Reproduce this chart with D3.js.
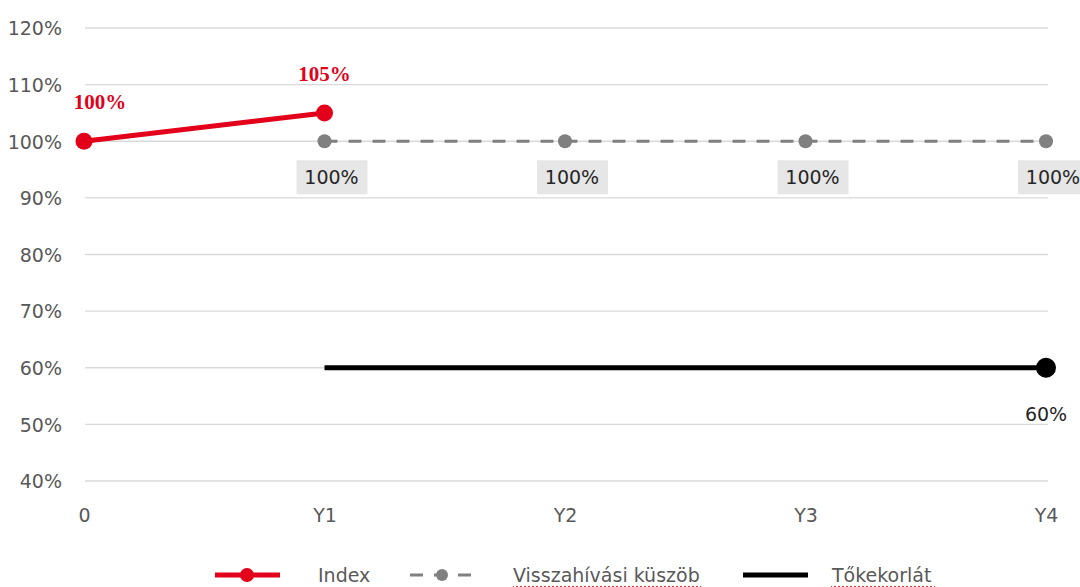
<!DOCTYPE html>
<html>
<head>
<meta charset="utf-8">
<script src="https://cdn.jsdelivr.net/npm/d3@7"></script>
<style>
  body { margin: 0; background: #fff; }
  svg text { font-family: "DejaVu Sans", sans-serif; }
</style>
</head>
<body>
<svg id="chart"></svg>
<script>
const categories = ["0", "Y1", "Y2", "Y3", "Y4"];
const yTicks = [0.4, 0.5, 0.6, 0.7, 0.8, 0.9, 1.0, 1.1, 1.2];
const indexValues = [{ x: "0", v: 1.00 }, { x: "Y1", v: 1.05 }];
const thresholdValues = [{ x: "Y1", v: 1.00 }, { x: "Y2", v: 1.00 }, { x: "Y3", v: 1.00 }, { x: "Y4", v: 1.00 }];
const barrierValues = [{ x: "Y1", v: 0.60 }, { x: "Y4", v: 0.60 }];
const legendLabels = ["Index", "Visszahívási küszöb", "Tőkekorlát"];

const width = 1080, height = 587;
const red = "#e2001a", grey = "#808080";
const fmt = d3.format(".0%");

const svg = d3.select("#chart").attr("width", width).attr("height", height);

const x = d3.scalePoint().domain(categories).range([84, 1046]);
const y = d3.scaleLinear().domain([0.4, 1.2]).range([481, 28]);

// gridlines
svg.append("g")
    .selectAll("line")
    .data(yTicks)
    .join("line")
    .attr("x1", 85).attr("x2", 1048)
    .attr("y1", d => y(d)).attr("y2", d => y(d))
    .attr("stroke", "#d9d9d9").attr("stroke-width", 1.3);

// y axis labels
const yAxis = d3.axisLeft(y).tickValues(yTicks).tickFormat(fmt).tickSize(0).tickPadding(0);
svg.append("g")
    .attr("transform", "translate(62,0)")
    .call(yAxis)
    .call(g => g.select(".domain").remove())
    .call(g => g.selectAll("text")
        .attr("fill", "#595959").attr("font-size", 19).attr("dy", "0.36em")
        .style("font-family", "'DejaVu Sans', sans-serif"));

// x axis labels
const xAxis = d3.axisBottom(x).tickSize(0).tickPadding(0);
svg.append("g")
    .attr("transform", "translate(0,508)")
    .call(xAxis)
    .call(g => g.select(".domain").remove())
    .call(g => g.selectAll("text")
        .attr("fill", "#595959").attr("font-size", 19)
        .style("font-family", "'DejaVu Sans', sans-serif"));

const line = d3.line().x(d => x(d.x)).y(d => y(d.v));

// Visszahívási küszöb (dashed grey)
svg.append("path")
    .datum(thresholdValues)
    .attr("d", line)
    .attr("fill", "none")
    .attr("stroke", grey).attr("stroke-width", 3.2)
    .attr("stroke-dasharray", "13,11");
svg.append("g")
    .selectAll("circle")
    .data(thresholdValues)
    .join("circle")
    .attr("cx", d => x(d.x)).attr("cy", d => y(d.v)).attr("r", 7)
    .attr("fill", grey);
const thrLabels = svg.append("g")
    .selectAll("g")
    .data(thresholdValues)
    .join("g")
    .attr("transform", d => `translate(${x(d.x) + 7},${y(d.v) + 36})`);
thrLabels.append("rect")
    .attr("x", -35).attr("y", -17).attr("width", 71).attr("height", 34)
    .attr("fill", "#e6e6e6");
thrLabels.append("text")
    .attr("text-anchor", "middle").attr("dy", "0.36em")
    .attr("font-size", 19).attr("fill", "#262626")
    .text(d => fmt(d.v));

// Tőkekorlát (black)
svg.append("path")
    .datum(barrierValues)
    .attr("d", line)
    .attr("fill", "none")
    .attr("stroke", "#000").attr("stroke-width", 5);
const lastBarrier = barrierValues[barrierValues.length - 1];
svg.append("circle")
    .attr("cx", x(lastBarrier.x)).attr("cy", y(lastBarrier.v)).attr("r", 10)
    .attr("fill", "#000");
svg.append("text")
    .attr("x", x(lastBarrier.x)).attr("y", y(lastBarrier.v) + 53)
    .attr("text-anchor", "middle").attr("font-size", 19).attr("fill", "#262626")
    .text(fmt(lastBarrier.v));

// Index (red)
svg.append("path")
    .datum(indexValues)
    .attr("d", line)
    .attr("fill", "none")
    .attr("stroke", red).attr("stroke-width", 5);
svg.append("g")
    .selectAll("circle")
    .data(indexValues)
    .join("circle")
    .attr("cx", d => x(d.x)).attr("cy", d => y(d.v)).attr("r", 8.5)
    .attr("fill", red);
svg.append("g")
    .selectAll("text")
    .data(indexValues)
    .join("text")
    .attr("x", (d, i) => x(d.x) + (i === 0 ? 16 : 0))
    .attr("y", d => y(d.v) - 32)
    .attr("text-anchor", "middle")
    .attr("font-size", 21).attr("font-weight", "bold").attr("fill", red)
    .style("font-family", "'Liberation Serif', serif")
    .text(d => fmt(d.v));

// legend
const legendY = 575;
const legendItems = [
    { label: legendLabels[0], x0: 215, tx: 318, color: red, dash: null, dot: 7, w: 5 },
    { label: legendLabels[1], x0: 410, tx: 513, color: grey, dash: "13,11", dot: 6, w: 3.2 },
    { label: legendLabels[2], x0: 743, tx: 832, color: "#000", dash: null, dot: 0, w: 5 }
];
const lg = svg.append("g").selectAll("g").data(legendItems).join("g");
lg.append("line")
    .attr("x1", d => d.x0).attr("x2", d => d.x0 + 65)
    .attr("y1", legendY).attr("y2", legendY)
    .attr("stroke", d => d.color).attr("stroke-width", d => d.w)
    .attr("stroke-dasharray", d => d.dash);
lg.filter(d => d.dot > 0).append("circle")
    .attr("cx", d => d.x0 + 32).attr("cy", legendY).attr("r", d => d.dot)
    .attr("fill", d => d.color);
lg.append("text")
    .attr("x", d => d.tx).attr("y", legendY).attr("dy", "0.36em")
    .attr("font-size", 19).attr("fill", "#595959")
    .text(d => d.label);

// spell-check squiggles under the Hungarian legend words
lg.filter(d => d.label !== "Index").each(function () {
    const t = d3.select(this).select("text");
    const bb = t.node().getBBox();
    let p = `M${bb.x},${legendY + 11}`;
    for (let px = bb.x; px < bb.x + bb.width; px += 4) {
        p += ` l2,2 l2,-2`;
    }
    d3.select(this).append("path")
        .attr("d", p).attr("fill", "none")
        .attr("stroke", "#e03030").attr("stroke-width", 1);
});
</script>
</body>
</html>
